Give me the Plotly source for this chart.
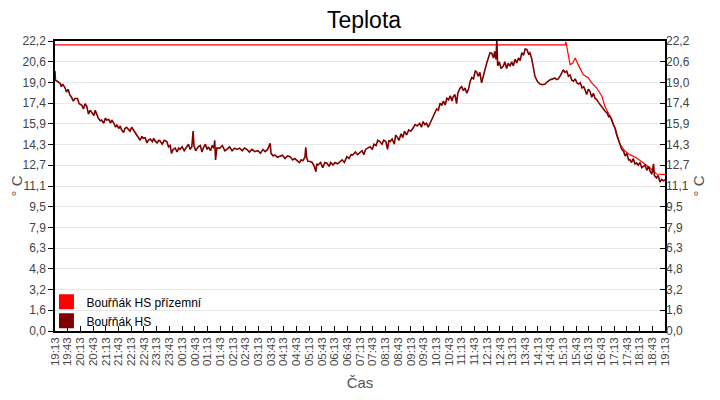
"""Teplota - Bouřňák HS, 24 h temperature trace (two sensors)."""

import pandas as pd
import plotly.graph_objects as go

BASE_DATE = "2024-05-01"

# Bouřňák HS přízemní (flat at the top until the afternoon)
GROUND_TIMES = [
    "19:13", "15:17", "15:19", "15:25", "15:29", "15:35", "15:41", "15:48",
    "16:00", "16:12", "16:20", "16:32", "16:44", "16:51", "17:03", "17:15",
    "17:27", "17:39", "17:50", "18:06", "18:22", "18:38", "18:53", "19:05",
    "19:13",
]
GROUND_VALUES = [
    21.9, 21.9, 22.13, 21.16, 20.39, 20.5, 20.9, 20.39,
    19.63, 19.37, 18.99, 18.6, 17.97, 17.2, 16.44, 15.54,
    14.27, 13.76, 13.5, 13.25, 12.86, 12.48, 12.02, 11.97,
    11.97,
]

# Bouřňák HS
HS_TIMES = [
    "19:13", "19:14", "19:19", "19:25", "19:28", "19:31", "19:37", "19:40", "19:44", "19:48",
    "19:52", "19:56", "20:00", "20:06", "20:10", "20:16", "20:20", "20:24", "20:28", "20:32",
    "20:36", "20:40", "20:45", "20:48", "20:51", "20:55", "21:00", "21:03", "21:08", "21:12",
    "21:15", "21:20", "21:24", "21:27", "21:32", "21:36", "21:39", "21:44", "21:47", "21:50",
    "21:55", "21:58", "22:02", "22:06", "22:10", "22:14", "22:18", "22:22", "22:26", "22:30",
    "22:34", "22:38", "22:41", "22:46", "22:50", "22:53", "22:58", "23:03", "23:06", "23:09",
    "23:14", "23:18", "23:21", "23:26", "23:31", "23:37", "23:41", "23:45", "23:48", "23:52",
    "23:57", "00:01", "00:05", "00:08", "00:13", "00:18", "00:24", "00:28", "00:32", "00:36",
    "00:39", "00:41", "00:45", "00:51", "00:56", "01:00", "01:03", "01:08", "01:12", "01:15",
    "01:20", "01:24", "01:28", "01:30", "01:32", "01:35", "01:42", "01:48", "01:54", "01:59",
    "02:05", "02:11", "02:17", "02:23", "02:29", "02:35", "02:40", "02:46", "02:52", "02:58",
    "03:05", "03:12", "03:18", "03:24", "03:29", "03:35", "03:41", "03:43", "03:48", "03:52",
    "03:58", "04:04", "04:10", "04:16", "04:22", "04:28", "04:34", "04:39", "04:44", "04:50",
    "04:54", "04:58", "05:03", "05:05", "05:07", "05:10", "05:15", "05:20", "05:25", "05:29",
    "05:31", "05:34", "05:40", "05:45", "05:50", "05:55", "06:00", "06:04", "06:09", "06:14",
    "06:20", "06:26", "06:31", "06:36", "06:42", "06:47", "06:52", "06:56", "07:02", "07:07",
    "07:13", "07:18", "07:22", "07:26", "07:31", "07:37", "07:42", "07:46", "07:51", "07:55",
    "08:00", "08:05", "08:09", "08:14", "08:18", "08:21", "08:24", "08:29", "08:34", "08:37",
    "08:40", "08:45", "08:50", "08:54", "08:58", "09:03", "09:08", "09:13", "09:18", "09:23",
    "09:28", "09:34", "09:38", "09:42", "09:46", "09:50", "09:54", "09:58", "10:03", "10:07",
    "10:10", "10:14", "10:18", "10:22", "10:26", "10:30", "10:34", "10:38", "10:42", "10:46",
    "10:50", "10:53", "10:57", "11:01", "11:04", "11:09", "11:13", "11:17", "11:21", "11:25",
    "11:29", "11:33", "11:37", "11:41", "11:45", "11:48", "11:52", "11:56", "12:00", "12:04",
    "12:08", "12:12", "12:16", "12:20", "12:24", "12:28", "12:31", "12:34", "12:36", "12:38",
    "12:42", "12:46", "12:51", "12:55", "12:59", "13:03", "13:07", "13:11", "13:15", "13:19",
    "13:23", "13:27", "13:31", "13:35", "13:39", "13:43", "13:47", "13:51", "13:54", "13:58",
    "14:01", "14:06", "14:12", "14:18", "14:24", "14:30", "14:36", "14:42", "14:48", "14:53",
    "14:57", "15:01", "15:07", "15:13", "15:17", "15:21", "15:25", "15:29", "15:33", "15:37",
    "15:41", "15:45", "15:49", "15:53", "15:57", "16:01", "16:04", "16:08", "16:12", "16:16",
    "16:20", "16:24", "16:28", "16:32", "16:36", "16:40", "16:44", "16:48", "16:52", "16:56",
    "17:00", "17:03", "17:07", "17:11", "17:15", "17:19", "17:23", "17:27", "17:31", "17:35",
    "17:39", "17:43", "17:47", "17:50", "17:54", "17:58", "18:02", "18:06", "18:10", "18:14",
    "18:18", "18:22", "18:26", "18:30", "18:34", "18:38", "18:42", "18:46", "18:48", "18:53",
    "18:57", "19:01", "19:05", "19:09", "19:13",
]
HS_VALUES = [
    19.9, 19.2, 19.1, 18.97, 18.7, 18.9, 18.6, 18.3, 18.5, 18.07,
    17.9, 17.6, 17.8, 17.8, 17.4, 17.3, 17.0, 17.4, 17.2, 16.6,
    16.9, 16.7, 16.5, 16.9, 16.7, 16.3, 16.1, 16.15, 15.9, 16.3,
    16.15, 16.2, 15.9, 16.15, 15.9, 15.6, 15.77, 15.5, 15.7, 15.4,
    15.2, 15.5, 15.6, 15.44, 15.3, 15.6, 15.4, 15.2, 15.0, 14.88,
    14.6, 14.9, 14.75, 14.8, 14.4, 14.6, 14.7, 14.5, 14.75, 14.57,
    14.4, 14.6, 14.55, 14.3, 14.6, 14.5, 14.1, 14.2, 13.6, 13.9,
    14.0, 13.7, 14.0, 13.9, 14.1, 13.8, 14.07, 14.3, 13.9, 14.1,
    15.3, 14.2, 13.8, 14.1, 14.2, 13.7, 14.0, 14.3, 13.9, 14.1,
    13.8, 14.2, 13.99, 14.6, 13.1, 14.0, 14.0, 14.2, 13.8, 13.9,
    14.1, 13.8, 14.0, 13.9, 14.0, 13.8, 14.0, 13.9, 13.7, 13.9,
    13.73, 13.8, 13.6, 13.9, 13.73, 13.9, 14.37, 13.6, 13.4, 13.48,
    13.3, 13.35, 13.45, 13.2, 13.4, 13.35, 13.1, 13.2, 13.04, 12.9,
    13.1, 13.04, 13.3, 14.07, 13.3, 13.0, 12.97, 12.9, 12.6, 12.2,
    12.8, 12.71, 12.9, 12.5, 12.9, 12.84, 12.6, 12.9, 12.71, 12.9,
    12.8, 13.0, 13.1, 12.9, 13.35, 13.2, 13.5, 13.48, 13.7, 13.5,
    13.65, 13.8, 13.5, 13.9, 14.0, 14.1, 13.9, 14.3, 14.2, 14.6,
    14.5, 14.3, 14.6, 14.5, 13.9, 14.6, 14.5, 14.7, 14.3, 15.0,
    14.88, 14.6, 15.1, 14.8, 15.3, 15.0, 15.4, 15.3, 15.52, 15.8,
    15.7, 15.9, 15.6, 16.03, 15.8, 15.9, 15.6, 15.9, 16.2, 16.5,
    16.8, 17.0, 16.9, 17.43, 17.3, 17.6, 17.3, 17.82, 17.7, 18.0,
    17.6, 17.95, 18.1, 17.4, 18.2, 18.58, 18.7, 18.4, 18.6, 18.2,
    18.5, 19.1, 19.4, 19.3, 19.9, 19.86, 19.5, 19.8, 19.0, 19.6,
    20.0, 20.5, 20.9, 21.3, 21.27, 20.9, 21.4, 20.8, 22.3, 20.3,
    20.6, 20.1, 20.27, 20.6, 20.1, 20.5, 20.27, 20.6, 20.3, 20.8,
    20.52, 20.9, 20.7, 21.3, 21.1, 21.6, 21.54, 21.2, 21.3, 20.9,
    20.39, 19.5, 19.1, 18.91, 18.85, 18.91, 19.1, 19.24, 19.3, 19.37,
    19.25, 19.3, 19.6, 20.0, 19.8, 19.9, 19.5, 19.6, 19.2, 19.12,
    19.3, 19.0, 18.91, 19.0, 18.6, 18.7, 18.48, 18.1, 18.5, 18.35,
    17.9, 18.2, 17.8, 17.71, 17.5, 17.3, 17.2, 16.95, 16.8, 16.7,
    16.4, 16.44, 16.2, 15.8, 15.54, 15.0, 14.65, 14.3, 13.9, 13.76,
    13.4, 13.6, 13.1, 13.12, 12.9, 13.2, 12.8, 12.86, 12.7, 12.9,
    12.5, 12.61, 12.7, 12.3, 12.6, 12.23, 12.0, 12.8, 11.9, 11.72,
    11.9, 11.4, 11.6, 11.5, 11.58,
]

Y_MAX = 22.2
Y_STEPS = 14

RED = "#ff0000"
DARK_RED = "#800000"
FONT = "Liberation Sans, Arial, sans-serif"


def to_datetimes(times):
    """HH:MM strings -> timestamps, rolling over to the next day at midnight."""
    out, day, prev = [], 0, None
    for t in times:
        if prev is not None and t < prev:
            day += 1
        prev = t
        out.append(pd.Timestamp(f"{BASE_DATE} {t}") + pd.Timedelta(days=day))
    return out


hs_x = to_datetimes(HS_TIMES)
ground_x = to_datetimes(GROUND_TIMES)
start, end = hs_x[0], hs_x[-1]

y_ticks = [Y_MAX * i / Y_STEPS for i in range(Y_STEPS + 1)]
y_text = [f"{v:.1f}".replace(".", ",") for v in y_ticks]

fig = go.Figure()

fig.add_trace(go.Scatter(
    x=ground_x, y=GROUND_VALUES, mode="lines",
    line=dict(color=RED, width=1.2), showlegend=False,
    name="Bouřňák HS přízemní",
))
fig.add_trace(go.Scatter(
    x=hs_x, y=HS_VALUES, mode="lines",
    line=dict(color=DARK_RED, width=1.6), showlegend=False,
    name="Bouřňák HS",
))

# legend entries drawn as filled squares like the original
for name, color in [("Bouřňák HS přízemní", RED), ("Bouřňák HS", DARK_RED)]:
    fig.add_trace(go.Scatter(
        x=[None], y=[None], mode="markers", name=name,
        marker=dict(symbol="square", size=15, color=color),
    ))

# right-hand copy of the y axis
fig.add_trace(go.Scatter(x=[start], y=[None], yaxis="y2", showlegend=False,
                         hoverinfo="skip"))

axis_font = dict(family=FONT, size=12, color="#444444")
title_font = dict(family=FONT, size=15, color="#555555")

# page body keeps its default 8px margin, so the figure is 8px smaller
fig.update_layout(
    width=712, height=392,
    margin=dict(l=47, r=55, t=33, b=69),
    paper_bgcolor="white", plot_bgcolor="white",
    font=dict(family=FONT, size=12, color="#444444"),
    title=dict(text="Teplota", x=0.5, xanchor="center", y=0.99, yanchor="top",
               font=dict(family=FONT, size=23, color="black"), automargin=False),
    xaxis=dict(
        type="date", range=[start, end], automargin=False,
        tick0=start, dtick=30 * 60 * 1000, tickformat="%H:%M",
        tickangle=-90, tickfont=dict(family=FONT, size=11.5, color="#444444"),
        ticks="inside", ticklen=5, tickcolor="black",
        showline=True, linecolor="black", linewidth=1.5, mirror=True,
        showgrid=False, zeroline=False,
        title=dict(text="Čas", font=title_font, standoff=12),
    ),
    yaxis=dict(
        range=[0, Y_MAX], tickvals=y_ticks, ticktext=y_text, automargin=False,
        tickfont=axis_font, ticks="outside", ticklen=5, tickcolor="black",
        showline=True, linecolor="black", linewidth=1.5, mirror=True,
        showgrid=True, gridcolor="#e8e8e8", zeroline=False,
        title=dict(text="° C", font=title_font, standoff=6),
    ),
    yaxis2=dict(
        overlaying="y", side="right", range=[0, Y_MAX], automargin=False,
        tickvals=y_ticks, ticktext=y_text, tickfont=axis_font,
        ticks="inside", ticklen=5, tickcolor="black",
        showgrid=False, zeroline=False, showline=False,
        title=dict(text="° C", font=title_font, standoff=4),
    ),
    legend=dict(
        x=-0.014, xanchor="left", y=-0.015, yanchor="bottom",
        bgcolor="rgba(0,0,0,0)", font=dict(family=FONT, size=12, color="black"),
        tracegroupgap=0,
    ),
    showlegend=True,
)

fig.write_html("out.html")
